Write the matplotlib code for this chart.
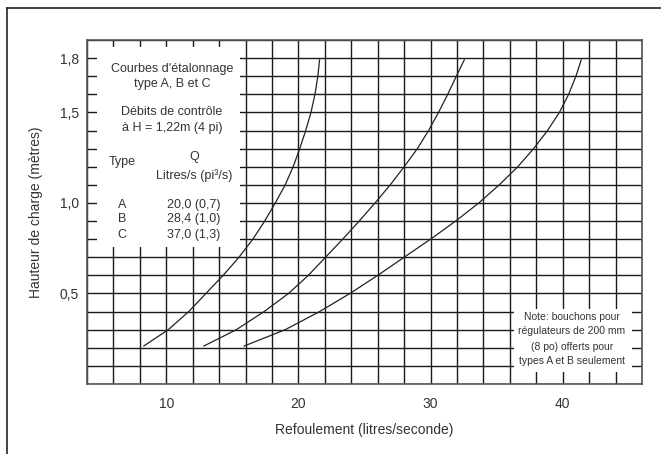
import matplotlib
matplotlib.use("Agg")
import matplotlib.pyplot as plt
from matplotlib.patches import Rectangle
from matplotlib.lines import Line2D

plt.rcParams['font.family'] = ['Liberation Sans', 'DejaVu Sans']

# curves: head (metres) and flow (litres/s) at each grid level
levels = [0.21, 0.3, 0.4, 0.5, 0.6, 0.7, 0.8, 0.9, 1.0, 1.1, 1.2, 1.3, 1.4,
          1.5, 1.6, 1.7, 1.79]
a_q = [8.3, 10.15, 11.7, 13.0, 14.3, 15.5, 16.55, 17.45, 18.25, 19.0, 19.6,
       20.1, 20.55, 20.95, 21.25, 21.47, 21.6]
b_q = [12.85, 15.3, 17.4, 19.25, 20.75, 22.05, 23.35, 24.6, 25.8, 26.95, 28.0,
       29.0, 29.85, 30.6, 31.3, 31.95, 32.55]
c_q = [15.9, 19.0, 21.6, 23.9, 26.0, 28.0, 30.0, 31.9, 33.65, 35.2, 36.6,
       37.8, 38.85, 39.75, 40.45, 41.0, 41.4]

x_ticks = list(range(4, 47, 2))
x_labels = {10: '10', 20: '20', 30: '30', 40: '40'}
y_ticks = [i / 10 for i in range(0, 20)]
y_labels = {0.5: '0,5', 1.0: '1,0', 1.5: '1,5', 1.8: '1,8'}

types = ['A', 'B', 'C']
debits = ['20,0 (0,7)', '28,4 (1,0)', '37,0 (1,3)']

txt = '#333333'
line_c = '#222222'

fig = plt.figure(figsize=(6.61, 4.54), dpi=100)
ax = fig.add_axes([87/661, 1 - 384/454, 555/661, 344/454])

for q in [a_q, b_q, c_q]:
    ax.plot(q, levels, color=line_c, lw=0.9, zorder=3)

ax.set_xlim(4, 46)
ax.set_ylim(0, 1.9)
ax.set_xticks(x_ticks)
ax.set_xticklabels([x_labels.get(t, '') for t in x_ticks])
ax.set_yticks(y_ticks)
ax.set_yticklabels([y_labels.get(round(t, 1), '') for t in y_ticks])
ax.tick_params(length=0, labelsize=10, labelcolor=txt)
ax.tick_params(axis='x', pad=9)
ax.tick_params(axis='y', pad=6)
ax.set_axisbelow(True)
ax.grid(True, color='#1a1a1a', lw=1.0)
for s in ax.spines.values():
    s.set_color('#555555')
    s.set_linewidth(1.2)

ax.set_xlabel('Refoulement (litres/seconde)', fontsize=10, color=txt, labelpad=9)
ax.set_ylabel('Hauteur de charge (mètres)', fontsize=10, color=txt, labelpad=12)

# white boxes hiding the grid
ax.add_patch(Rectangle((4.76, 0.757), 15.6 - 4.76, 1.86 - 0.757,
                       facecolor='white', edgecolor='none', zorder=1))
ax.add_patch(Rectangle((36.3, 0.066), 45.25 - 36.3, 0.414 - 0.066,
                       facecolor='white', edgecolor='none', zorder=1))

kw = dict(ha='center', va='center', color=txt, zorder=4)
ax.text(10.43, 1.74, "Courbes d'étalonnage", fontsize=9, **kw)
ax.text(10.43, 1.657, 'type A, B et C', fontsize=9, **kw)
ax.text(10.43, 1.503, 'Débits de contrôle', fontsize=9, **kw)
ax.text(10.43, 1.414, 'à H = 1,22m (4 pi)', fontsize=9, **kw)
ax.text(6.65, 1.227, 'Type', fontsize=9, **kw)
ax.text(12.1, 1.254, 'Q', fontsize=9, **kw)
ax.text(12.1, 1.149, 'Litres/s (pi³/s)', fontsize=9, **kw)
for i, (t, d) in enumerate(zip(types, debits)):
    yy = [0.989, 0.912, 0.823][i]
    ax.text(6.65, yy, t, fontsize=9, **kw)
    ax.text(12.1, yy, d, fontsize=9, **kw)

note = ['Note: bouchons pour', 'régulateurs de 200 mm',
        '(8 po) offerts pour', 'types A et B seulement']
for yy, line in zip([0.37, 0.293, 0.204, 0.127], note):
    ax.text(40.7, yy, line, fontsize=7.5, **kw)

# outer frame (left and top edges)
fig.add_artist(Line2D([7/661, 7/661], [0, 1 - 8/454], color='#222222', lw=1.2))
fig.add_artist(Line2D([7/661, 1], [1 - 8/454, 1 - 8/454], color='#222222', lw=1.2))

fig.savefig('out.png', dpi=100)
